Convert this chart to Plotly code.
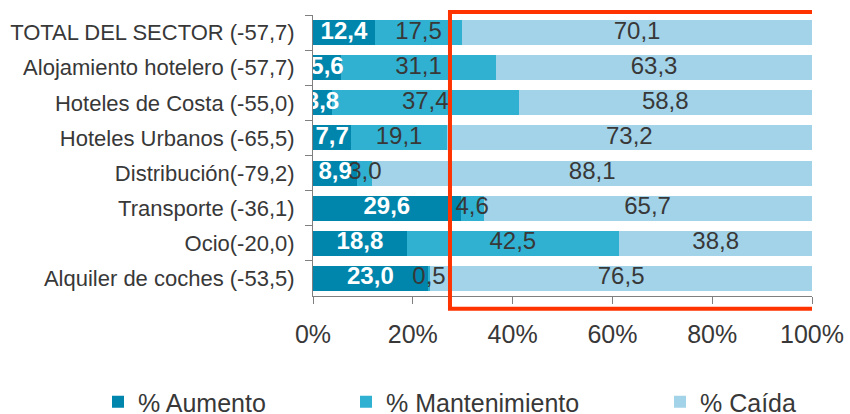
import plotly.graph_objects as go

categories = [
    "TOTAL DEL SECTOR (-57,7)",
    "Alojamiento hotelero (-57,7)",
    "Hoteles de Costa (-55,0)",
    "Hoteles Urbanos (-65,5)",
    "Distribución(-79,2)",
    "Transporte (-36,1)",
    "Ocio(-20,0)",
    "Alquiler de coches (-53,5)",
]
aumento = [12.4, 5.6, 3.8, 7.7, 8.9, 29.6, 18.8, 23.0]
mantenimiento = [17.5, 31.1, 37.4, 19.1, 3.0, 4.6, 42.5, 0.5]
caida = [70.1, 63.3, 58.8, 73.2, 88.1, 65.7, 38.8, 76.5]
series_names = ["% Aumento", "% Mantenimiento", "% Caída"]
x_ticks = [0, 20, 40, 60, 80, 100]
x_tick_labels = ["0%", "20%", "40%", "60%", "80%", "100%"]

colors = ["#0086AC", "#31B1D2", "#A3D3E8"]
FONT = "Liberation Sans, Arial, sans-serif"
TXT = "#383838"

def fmt(v):
    return f"{v:.1f}".replace(".", ",")

fig = go.Figure()
series = [aumento, mantenimiento, caida]
legends = ["legend", "legend2", "legend3"]

# bars
for i, (vals, name) in enumerate(zip(series, series_names)):
    fig.add_trace(go.Bar(
        y=categories, x=vals, name=name, orientation="h",
        marker=dict(color=colors[i], line=dict(width=0)),
        legend=legends[i], hoverinfo="skip",
    ))

# value labels drawn above all bars (centred in each segment)
base = [0.0] * len(categories)
for i, vals in enumerate(series):
    mids = [b + v / 2 for b, v in zip(base, vals)]
    base = [b + v for b, v in zip(base, vals)]
    tf = dict(family=FONT, size=24, color="white" if i == 0 else TXT)
    if i == 0:
        tf["weight"] = "bold"
    fig.add_trace(go.Scatter(
        x=mids, y=categories, mode="text", text=[fmt(v) for v in vals],
        textposition="middle center", textfont=tf, cliponaxis=True,
        showlegend=False, hoverinfo="skip",
    ))

# red highlight rectangle
fig.add_shape(type="rect", xref="x", yref="paper",
              x0=27.45, x1=100.6, y0=-0.045, y1=1.011,
              line=dict(color="#FF3300", width=4), fillcolor="rgba(0,0,0,0)",
              layer="above")

leg_common = dict(orientation="h", yref="container", xref="container",
                  yanchor="middle", xanchor="left",
                  font=dict(family=FONT, size=25, color=TXT),
                  bgcolor="rgba(0,0,0,0)", itemwidth=30)
LY = 1 - 402 / 414.0

fig.update_layout(
    width=850, height=414,
    margin=dict(l=313, r=38, t=15, b=118, autoexpand=False),
    paper_bgcolor="white", plot_bgcolor="white",
    barmode="stack", bargap=0.29,
    font=dict(family=FONT, color=TXT),
    showlegend=True,
    legend=dict(leg_common, x=98 / 850, y=LY),
    legend2=dict(leg_common, x=346 / 850, y=LY),
    legend3=dict(leg_common, x=660 / 850, y=LY),
    xaxis=dict(range=[0, 100], tickvals=x_ticks, ticktext=x_tick_labels,
               showgrid=False, zeroline=False, showline=True, automargin=False,
               linecolor="#7f7f7f", linewidth=1, ticks="outside", ticklen=7,
               tickcolor="#7f7f7f", tickfont=dict(family=FONT, size=25, color=TXT),
               ticklabelstandoff=9, fixedrange=True),
    yaxis=dict(categoryorder="array", categoryarray=categories, autorange="reversed",
               showgrid=False, zeroline=False, showline=True, automargin=False,
               linecolor="#7f7f7f", linewidth=1, ticks="outside", ticklen=7,
               tickson="boundaries", tickcolor="#7f7f7f",
               tickfont=dict(family=FONT, size=22, color=TXT),
               ticklabelstandoff=13, fixedrange=True),
)

fig.write_html("out.html", config={"displayModeBar": False},
               post_script="document.body.style.margin='0';document.body.style.padding='0';")
